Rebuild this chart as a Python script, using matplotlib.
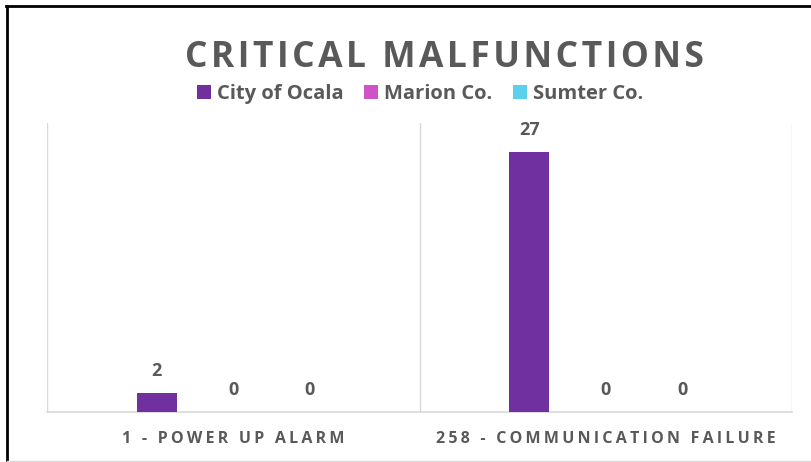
import matplotlib
matplotlib.use("Agg")
import matplotlib.pyplot as plt
from matplotlib.lines import Line2D
import numpy as np

# ---- data ----
categories = ["1 - POWER UP ALARM", "258 - COMMUNICATION FAILURE"]
series_names = ["City of Ocala", "Marion Co.", "Sumter Co."]
city_of_ocala = [2, 27]
marion_co = [0, 0]
sumter_co = [0, 0]
title = "CRITICAL MALFUNCTIONS"

colors = ["#7030A0", "#CF52C6", "#5DD0EC"]
gray = "#595959"
light = "#D9D9D9"
FAM = ["Open Sans", "DejaVu Sans"]

W, H = 811, 462
fig = plt.figure(figsize=(W / 100, H / 100), dpi=100)


def fx(x):
    return x / W


def fy(y):
    return 1 - y / H


def spaced(s, sep="\u2009"):
    return sep.join(list(s))


ax = fig.add_axes([fx(47), fy(412), fx(792) - fx(47), fy(123) - fy(412)])

x = np.arange(len(categories))
off = 0.205
bw = 0.107
series = [city_of_ocala, marion_co, sumter_co]
bars = []
for i, (name, vals) in enumerate(zip(series_names, series)):
    b = ax.bar(x + (i - 1) * off, vals, bw, color=colors[i], label=name, zorder=3)
    bars.append(b)
    for rect, v in zip(b, vals):
        ax.annotate(str(v), (rect.get_x() + rect.get_width() / 2, v),
                    xytext=(0, 12.2), textcoords="offset points",
                    ha="center", va="baseline", fontsize=13, fontweight="bold",
                    color=gray, family=FAM)

ax.set_xlim(-0.5, len(categories) - 0.5)
ax.set_ylim(0, 30)
for sep in np.arange(-0.5, len(categories), 1.0):
    ax.axvline(sep, color=light, lw=1, zorder=1)
for s in ["top", "left", "right"]:
    ax.spines[s].set_visible(False)
ax.spines["bottom"].set_color(light)
ax.spines["bottom"].set_linewidth(1.2)
ax.set_yticks([])
ax.set_xticks(x)
ax.set_xticklabels([spaced(c) for c in categories], fontsize=11.5,
                   fontweight="bold", color=gray, family=FAM)
for lab in ax.get_xticklabels():
    lab.set_va("baseline")
ax.tick_params(axis="x", length=0, pad=22.3)

fig.text(fx(444), fy(67), spaced(title, "\u200a"), ha="center", va="baseline",
         fontsize=25.5, fontweight="bold", color=gray, family=FAM)

leg = fig.legend(handles=bars, labels=series_names, loc="center",
                 bbox_to_anchor=(fx(420), fy(94)), ncol=3, frameon=False,
                 handlelength=0.7, handleheight=0.7, handletextpad=0.3,
                 columnspacing=1.0, borderpad=0,
                 prop={"family": FAM, "weight": "bold", "size": 14.5})
for t in leg.get_texts():
    t.set_color(gray)

# chart border lines
fig.add_artist(Line2D([fx(6), fx(811)], [fy(6), fy(6)], color="black", lw=2,
                      transform=fig.transFigure))
fig.add_artist(Line2D([fx(7), fx(7)], [fy(6), fy(462)], color="black", lw=2,
                      transform=fig.transFigure))
fig.add_artist(Line2D([fx(7), fx(811)], [fy(461), fy(461)], color=light, lw=1,
                      transform=fig.transFigure))

fig.savefig("out.png", dpi=100)
